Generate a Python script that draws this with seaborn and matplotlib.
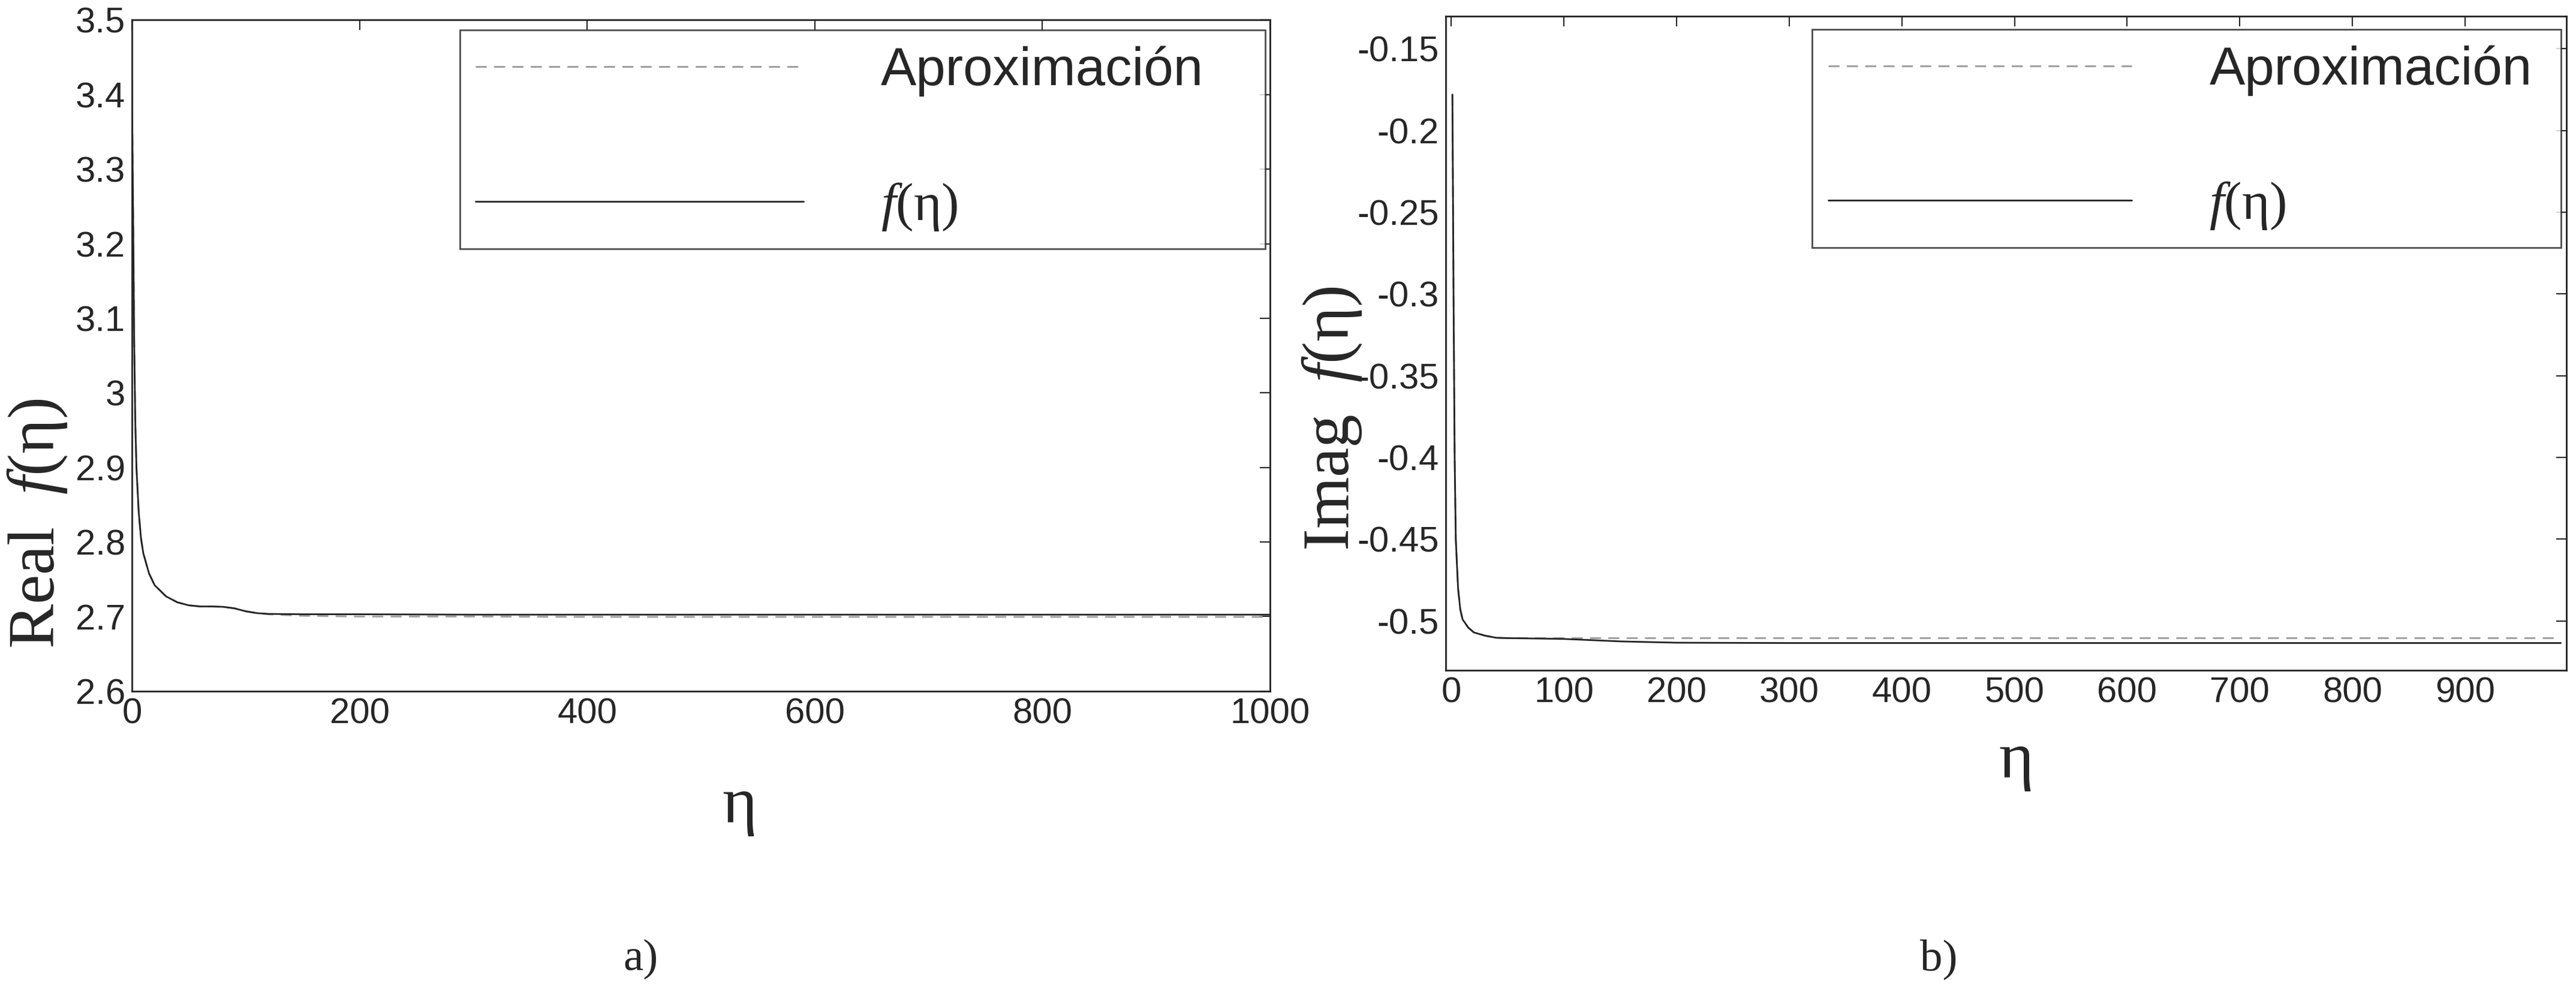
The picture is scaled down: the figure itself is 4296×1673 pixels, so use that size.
import numpy as np
import pandas as pd
import matplotlib
matplotlib.use("Agg")
import matplotlib.pyplot as plt
import seaborn as sns

# parte real
eta_real = [0, 1, 2, 3, 4, 6, 8, 10, 15, 20, 30, 40, 50, 60, 70, 80, 90, 100,
            110, 120, 150, 200, 300, 400, 500, 600, 700, 800, 900, 1000]
real_f = [3.42, 3.25, 3.07, 2.96, 2.90, 2.84, 2.805, 2.785, 2.758, 2.742, 2.727,
          2.719, 2.715, 2.7135, 2.7135, 2.713, 2.711, 2.707, 2.7045, 2.7035, 2.703,
          2.703, 2.7025, 2.7025, 2.7025, 2.7025, 2.7025, 2.7025, 2.7025, 2.7025]
real_aprox = [3.42, 3.25, 3.07, 2.96, 2.90, 2.84, 2.805, 2.785, 2.758, 2.742, 2.727,
              2.719, 2.715, 2.7135, 2.7135, 2.713, 2.711, 2.707, 2.7045, 2.703, 2.701,
              2.700, 2.700, 2.6995, 2.6995, 2.6995, 2.6995, 2.6995, 2.6995, 2.6995]

# parte imaginaria
eta_imag = [1, 2, 3, 4, 6, 8, 10, 15, 20, 30, 40, 50, 100, 150, 200, 300, 400,
            500, 600, 700, 800, 900, 985]
imag_f = [-0.178, -0.30, -0.40, -0.45, -0.48, -0.493, -0.499, -0.504, -0.507,
          -0.509, -0.5103, -0.5105, -0.511, -0.5125, -0.5133, -0.5135, -0.5135,
          -0.5135, -0.5135, -0.5135, -0.5135, -0.5135, -0.5135]
imag_aprox = [-0.178, -0.30, -0.40, -0.45, -0.48, -0.493, -0.499, -0.504, -0.507,
              -0.509, -0.5103, -0.5105, -0.5105, -0.5105, -0.5105, -0.5105, -0.5105,
              -0.5105, -0.5105, -0.5105, -0.5105, -0.5105, -0.5105]

real_yticks = [2.6, 2.7, 2.8, 2.9, 3, 3.1, 3.2, 3.3, 3.4, 3.5]
real_ylabels = ['2.6', '2.7', '2.8', '2.9', '3', '3.1', '3.2', '3.3', '3.4', '3.5']
real_xticks = [0, 200, 400, 600, 800, 1000]
imag_yticks = [-0.5, -0.45, -0.4, -0.35, -0.3, -0.25, -0.2, -0.15]
imag_ylabels = ['-0.5', '-0.45', '-0.4', '-0.35', '-0.3', '-0.25', '-0.2', '-0.15']
imag_xticks = [0, 100, 200, 300, 400, 500, 600, 700, 800, 900]

sns.set_style("white")
plt.rcParams['font.family'] = ['Liberation Sans', 'DejaVu Sans']
plt.rcParams['mathtext.fontset'] = 'custom'
plt.rcParams['mathtext.rm'] = 'Liberation Serif'
plt.rcParams['mathtext.it'] = 'Liberation Serif:italic'

fig = plt.figure(figsize=(42.96, 16.73), dpi=100)
ax1 = fig.add_axes([0.0512, 0.311, 0.4418, 0.669])
ax2 = fig.add_axes([0.5612, 0.332, 0.4351, 0.652])

lbl_f = r'$\mathit{f}\mathrm{(\eta)}$'


def dibujar(ax, x, yf, ya, caja, largo):
    df = pd.DataFrame({'eta': x, 'f': yf, 'aprox': ya})
    sns.lineplot(data=df, x='eta', y='aprox', ax=ax, color='#a0a0a0', lw=2.2,
                 linestyle=(0, (6, 4)), label='Aproximación')
    sns.lineplot(data=df, x='eta', y='f', ax=ax, color='#222222', lw=2.0,
                 label=lbl_f)
    for s in ax.spines.values():
        s.set_visible(True)
        s.set_linewidth(2.0)
        s.set_color('#222222')
    ax.tick_params(direction='in', length=12, width=1.5, labelsize=43,
                   top=True, right=True, pad=8)
    leg = ax.legend(loc='upper left', bbox_to_anchor=caja, mode='expand',
                    borderaxespad=0, fontsize=64, handlelength=largo,
                    handletextpad=1.45, labelspacing=1.58, borderpad=0.3,
                    fancybox=False, frameon=True)
    leg.get_frame().set_edgecolor('#222222')
    leg.get_frame().set_linewidth(2.0)


dibujar(ax1, eta_real, real_f, real_aprox, (0.288, 0.5, 0.708, 0.485), 6.15)
ax1.set_xlim(0, 1000)
ax1.set_ylim(2.6, 3.5)
ax1.set_xticks(real_xticks)
ax1.set_yticks(real_yticks)
ax1.set_yticklabels(real_ylabels)
ax1.set_xlabel('')
ax1.set_ylabel(r'$\mathrm{Real}\ \ \mathit{f}\mathrm{(\eta)}$', fontsize=80)
ax1.yaxis.set_label_coords(-0.0553, 0.25)

dibujar(ax2, eta_imag, imag_f, imag_aprox, (0.327, 0.5, 0.668, 0.48), 5.7)
ax2.set_xlim(-5, 990)
ax2.set_ylim(-0.53, -0.13)
ax2.set_xticks(imag_xticks)
ax2.set_yticks(imag_yticks)
ax2.set_yticklabels(imag_ylabels)
ax2.set_xlabel('')
ax2.set_ylabel(r'$\mathrm{Imag}\ \ \mathit{f}\mathrm{(\eta)}$', fontsize=80)
ax2.yaxis.set_label_coords(-0.0733, 0.385)

# etiquetas de eta y de los paneles
fig.text(1233 / 4296, 1 - 1345 / 1673, 'η', fontsize=80, family='Liberation Serif',
         ha='center', va='center')
fig.text(3362 / 4296, 1 - 1270 / 1673, 'η', fontsize=80, family='Liberation Serif',
         ha='center', va='center')
fig.text(1068 / 4296, 1 - 1600 / 1673, 'a)', fontsize=54, family='Liberation Serif',
         ha='center', va='center')
fig.text(3233 / 4296, 1 - 1600 / 1673, 'b)', fontsize=54, family='Liberation Serif',
         ha='center', va='center')

fig.savefig('out.png', dpi=100)
